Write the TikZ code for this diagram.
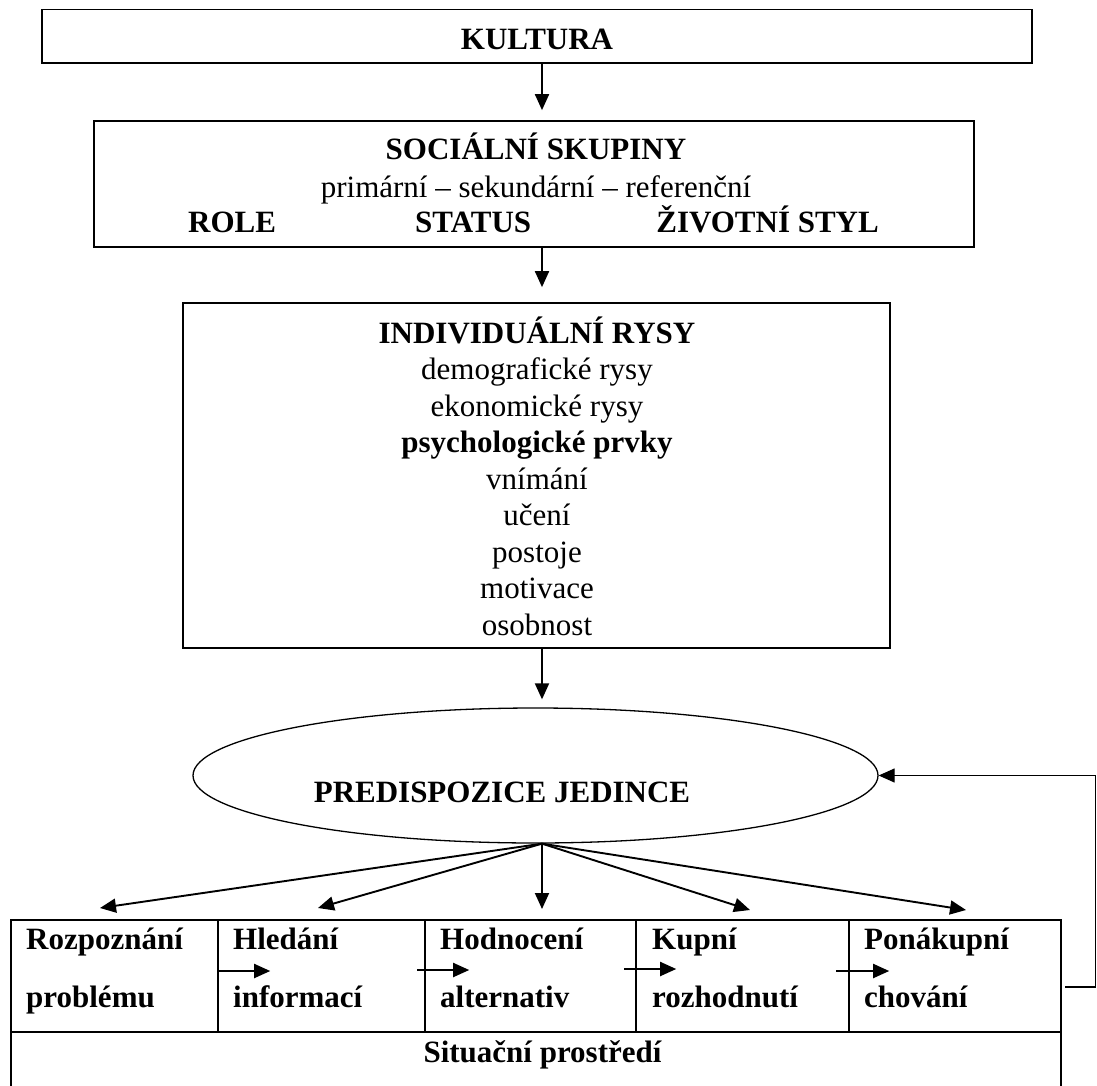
\documentclass[tikz,border=0pt]{standalone}
\usepackage{fontspec}
\setmainfont{Liberation Serif}
\usetikzlibrary{arrows.meta,shapes.geometric}

\begin{document}
\begin{tikzpicture}[x=1pt,y=-1pt,
  box/.style={draw, line width=1.7pt, inner sep=0pt},
  cellbox/.style={draw, line width=1.6pt, inner sep=0pt, minimum height=112pt},
  arr/.style={line width=1.9pt, -{Triangle[length=16pt,width=14pt]}},
  txt/.style={anchor=base, inner sep=0pt, font=\fontsize{31}{36}\selectfont},
  btxt/.style={txt, font=\fontsize{31}{36}\selectfont\bfseries},
  ctxt/.style={btxt, anchor=base west}]
\useasboundingbox (0,0) rectangle (1097,1086);

% --- main boxes ---
\node[box, minimum width=990pt, minimum height=53.5pt] (kultura) at (537,36.25) {};
\node[box, minimum width=880pt, minimum height=126pt] (social) at (534,184) {};
\node[box, minimum width=707pt, minimum height=345pt] (indiv) at (536.5,475.5) {};
\node[draw, ellipse, line width=1.3pt, inner sep=0pt,
      minimum width=685pt, minimum height=135pt] (pred) at (535.5,775.5) {};

% --- texts of the boxes ---
\node[btxt] (tkult) at (537,50) {KULTURA};
\node[btxt] (tsoc1) at (536,160) {SOCIÁLNÍ SKUPINY};
\node[txt]  (tsoc2) at (536,197) {primární – sekundární – referenční};
\node[btxt, anchor=base west] (trole) at (188,233) {ROLE};
\node[btxt, anchor=base west] (tstat) at (415,233) {STATUS};
\node[btxt, anchor=base east] (tstyl) at (879,233) {ŽIVOTNÍ STYL};

\node[btxt] (ti1) at (537,343)   {INDIVIDUÁLNÍ RYSY};
\node[txt]  (ti2) at (537,379.5) {demografické rysy};
\node[txt]  (ti3) at (537,416)   {ekonomické rysy};
\node[btxt] (ti4) at (537,452.5) {psychologické prvky};
\node[txt]  (ti5) at (537,489)   {vnímání};
\node[txt]  (ti6) at (537,525.5) {učení};
\node[txt]  (ti7) at (537,562)   {postoje};
\node[txt]  (ti8) at (537,598.5) {motivace};
\node[txt]  (ti9) at (537,635)   {osobnost};

\node[btxt] (tpred) at (502,802) {PREDISPOZICE JEDINCE};

% --- purchase process cells ---
\node[cellbox, minimum width=207pt] (cell1) at (114.5,976) {};
\node[cellbox, minimum width=207pt] (cell2) at (321.5,976) {};
\node[cellbox, minimum width=211pt] (cell3) at (530.5,976) {};
\node[cellbox, minimum width=213pt] (cell4) at (742.5,976) {};
\node[cellbox, minimum width=212pt] (cell5) at (955,976) {};

\node[ctxt] (c1a) at (26,949)   {Rozpoznání};
\node[ctxt] (c1b) at (26,1007)  {problému};
\node[ctxt] (c2a) at (233,949)  {Hledání};
\node[ctxt] (c2b) at (233,1007) {informací};
\node[ctxt] (c3a) at (440,949)  {Hodnocení};
\node[ctxt] (c3b) at (440,1007) {alternativ};
\node[ctxt] (c4a) at (652,949)  {Kupní};
\node[ctxt] (c4b) at (652,1007) {rozhodnutí};
\node[ctxt] (c5a) at (864,949)  {Ponákupní};
\node[ctxt] (c5b) at (864,1007) {chování};

% --- situational environment row (open at the bottom edge) ---
\node[inner sep=0pt, minimum width=1050pt, minimum height=54pt] (env) at (536,1059) {};
\draw[line width=1.6pt] (env.north west) -- (env.south west);
\draw[line width=1.6pt] (env.north east) -- (env.south east);
\node[btxt] (tenv) at (542.5,1062) {Situační prostředí};

% --- vertical flow ---
\draw[arr, shorten >=10pt] ([xshift=5pt]kultura.south) -- ([xshift=8pt]social.north);
\draw[arr, shorten >=15pt] ([xshift=8pt]social.south) -- ([xshift=5.5pt]indiv.north);
\draw[arr, shorten >=8pt]  ([xshift=5.5pt]indiv.south) -- ([xshift=6.5pt]pred.north);

% --- fan from the ellipse to the process stages ---
\coordinate (fan) at ([xshift=6.5pt]pred.south);
\coordinate (t1) at (100,908);
\coordinate (t2) at (318,908);
\coordinate (t3) at (542,909);
\coordinate (t4) at (750,910);
\coordinate (t5) at (966,910);
\foreach \t in {t1,t2,t3,t4,t5} \draw[arr] (fan) -- (\t);

% --- arrows between the stages ---
\draw[arr] ([yshift=5pt]cell2.west) -- ++(53,0);
\draw[arr] ([xshift=-7pt,yshift=6pt]cell3.west) -- ++(52,0);
\draw[arr] ([xshift=-11pt,yshift=7pt]cell4.west) -- ++(52,0);
\draw[arr] ([xshift=-12pt,yshift=5pt]cell5.west) -- ++(53,0);

% --- feedback loop ---
\coordinate (fb) at (1065,987);
\draw[line width=1.3pt, -{Triangle[length=16pt,width=14pt]}]
  (fb) -- (1095.5,987) |- (pred.east);
\end{tikzpicture}
\end{document}
